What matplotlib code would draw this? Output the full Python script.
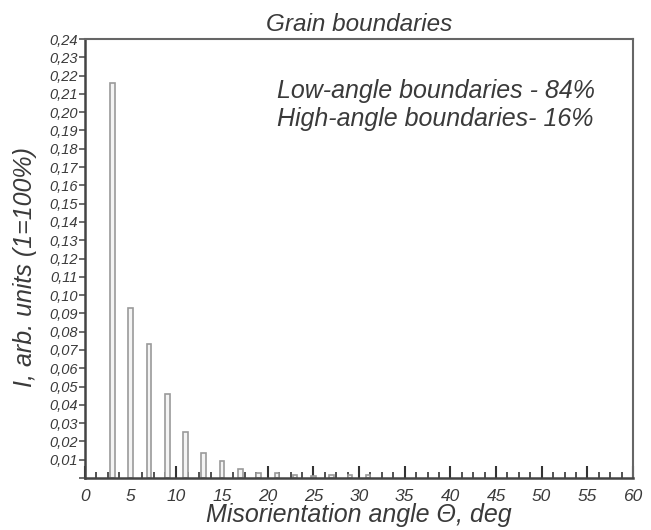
import matplotlib
matplotlib.use("Agg")
import matplotlib.pyplot as plt
from matplotlib.ticker import MultipleLocator, FuncFormatter
import numpy as np

plt.rcParams['font.family'] = ['Liberation Sans', 'DejaVu Sans']

angles = [3, 5, 7, 9, 11, 13, 15, 17, 19, 21, 23, 25, 27, 29, 31]
intensity = [0.216, 0.093, 0.073, 0.046, 0.025, 0.0138, 0.0092, 0.0048, 0.0030,
             0.0028, 0.0016, 0.0010, 0.0014, 0.0014, 0.0018]

title = "Grain boundaries"
xlabel = "Misorientation angle \u0398, deg"
ylabel = "I, arb. units (1=100%)"
note = "Low-angle boundaries - 84%\nHigh-angle boundaries- 16%"

txt = '#3a3a3a'
fig = plt.figure(figsize=(6.51, 5.30), dpi=100)
ax = fig.add_axes([0.1306, 0.0981, 0.8418, 0.8283])

ax.bar(angles, intensity, width=0.5, facecolor='#f4f4f4', edgecolor='#9a9a9a', linewidth=1.2, zorder=2)

ax.set_xlim(0, 60)
ax.set_ylim(0, 0.24)
ax.xaxis.set_major_locator(MultipleLocator(5))
ax.xaxis.set_minor_locator(MultipleLocator(1.25))
ax.yaxis.set_major_locator(MultipleLocator(0.01))
ax.tick_params(axis='x', which='major', direction='in', length=9, width=1.5, color='#333333',
               labelsize=12.5, labelcolor=txt, pad=8)
ax.tick_params(axis='x', which='minor', direction='in', length=4, width=1.2, color='#333333')
ax.tick_params(axis='y', which='major', direction='out', length=4, width=1.2, color='#555555',
               labelsize=10.5, labelcolor=txt, pad=1.5)

def yfmt(v, pos):
    if abs(v) < 1e-9:
        return ''
    return ('%.2f' % v).replace('.', ',')
ax.yaxis.set_major_formatter(FuncFormatter(yfmt))
for lab in ax.get_xticklabels() + ax.get_yticklabels():
    lab.set_fontstyle('italic')

for s in ['left', 'bottom']:
    ax.spines[s].set_linewidth(1.8)
    ax.spines[s].set_color('#444444')
for s in ['top', 'right']:
    ax.spines[s].set_linewidth(1.5)
    ax.spines[s].set_color('#666666')

ax.set_xlabel(xlabel, fontsize=18, style='italic', color=txt, labelpad=-1)
ax.set_ylabel(ylabel, fontsize=18, style='italic', color=txt)
ax.yaxis.set_label_coords(-0.088, 0.48)
ax.set_title(title, fontsize=17.5, style='italic', color=txt, pad=6)
ax.text(0.64, 0.849, note, transform=ax.transAxes, fontsize=18, style='italic', color=txt,
        ha='center', va='center', linespacing=1.2)

fig.savefig('out.png', dpi=100)
